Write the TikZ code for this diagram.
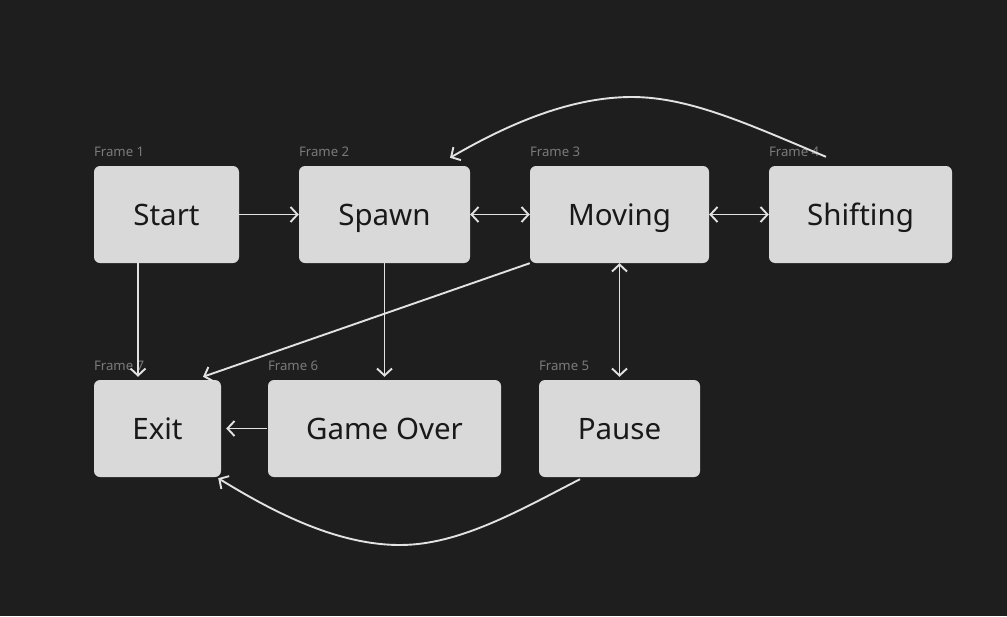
\documentclass[tikz,border=0pt]{standalone}
\usepackage{fontspec}
\setmainfont{Noto Sans}
\usepackage{xcolor}
\usepackage{tikz}
\usetikzlibrary{arrows.meta, positioning, calc}

\definecolor{canvasbg}{HTML}{1E1E1E}
\definecolor{framefill}{HTML}{D9D9D9}
\definecolor{framelbl}{HTML}{7A7A7A}
\definecolor{wire}{HTML}{E2E2E2}

\begin{document}
\begin{tikzpicture}[
    x=1pt, y=-1pt,
    fbox/.style={fill=framefill, draw=none, rounded corners=6pt, inner sep=0pt,
                 minimum height=97pt, text height=21pt, text depth=0pt,
                 font=\fontsize{29.5}{32}\selectfont, text=black!90},
    flabel/.style={anchor=base west, font=\fontsize{13.2}{15}\selectfont, text=framelbl, inner sep=0pt},
    myarr/.style={-{Straight Barb[length=7pt,width=15pt]}, line width=1.9pt, draw=wire},
    dblarr/.style={myarr, {Straight Barb[length=7pt,width=15pt]}-{Straight Barb[length=7pt,width=15pt]}},
]
%% -- Canvas --
\fill[canvasbg] (0,0) rectangle (1007,616);
\useasboundingbox (0,0) rectangle (1007,616);
%% -- Frames, top row --
\node[fbox, minimum width=145pt](start)at(166.5,214.5){Start};
\node[fbox, minimum width=171pt](spawn)at(384.5,214.5){Spawn};
\node[fbox, minimum width=179pt](moving)at(619.5,214.5){Moving};
\node[fbox, minimum width=183pt](shifting)at(860.5,214.5){Shifting};
%% -- Frames, bottom row --
\node[fbox, minimum width=127pt](exit)at(157.5,428.5){Exit};
\node[fbox, minimum width=233pt](gameover)at(384.5,428.5){Game Over};
\node[fbox, minimum width=161pt](pause)at(619.5,428.5){Pause};
%% -- Frame labels --
\node[flabel] at([yshift=9pt]start.north west){Frame 1};
\node[flabel] at([yshift=9pt]spawn.north west){Frame 2};
\node[flabel] at([yshift=9pt]moving.north west){Frame 3};
\node[flabel] at([yshift=9pt]shifting.north west){Frame 4};
\node[flabel] at([yshift=9pt]pause.north west){Frame 5};
\node[flabel] at([yshift=9pt]gameover.north west){Frame 6};
\node[flabel] at([yshift=9pt]exit.north west){Frame 7};
%% -- Arc end points --
\coordinate (shiftOut) at ([xshift=-34.5pt,yshift=9pt]shifting.north);
\coordinate (spawnIn)  at ([xshift=65.5pt,yshift=8pt]spawn.north);
\coordinate (pauseOut) at ([xshift=-39.5pt,yshift=-2pt]pause.south);
\coordinate (exitIn)   at ([xshift=-3pt,yshift=-1pt]exit.south east);
\coordinate (exitTop)  at ([xshift=45.5pt,yshift=3pt]exit.north);
%% -- Horizontal links --
\draw[myarr](start.east)--(spawn.west);
\draw[dblarr](spawn.east)--(moving.west);
\draw[dblarr](moving.east)--(shifting.west);
\draw[myarr]([xshift=-1pt]gameover.west)--([xshift=5pt]exit.east);
%% -- Vertical links --
\draw[myarr]([xshift=-28.5pt]start.south)--([xshift=-19.5pt,yshift=3pt]exit.north);
\draw[myarr](spawn.south)--([yshift=3pt]gameover.north);
\draw[dblarr](moving.south)--([yshift=3pt]pause.north);
%% -- Diagonal and arcs --
\draw[myarr](moving.south west)--(exitTop);
\draw[myarr](shiftOut) .. controls (750,125) and (690,97) .. (632,97)
  .. controls (575,97) and (515,120) .. (spawnIn);
\draw[myarr](pauseOut) .. controls (520,510) and (460,545) .. (400,545)
  .. controls (335,545) and (270,510) .. (exitIn);
\end{tikzpicture}
\end{document}
